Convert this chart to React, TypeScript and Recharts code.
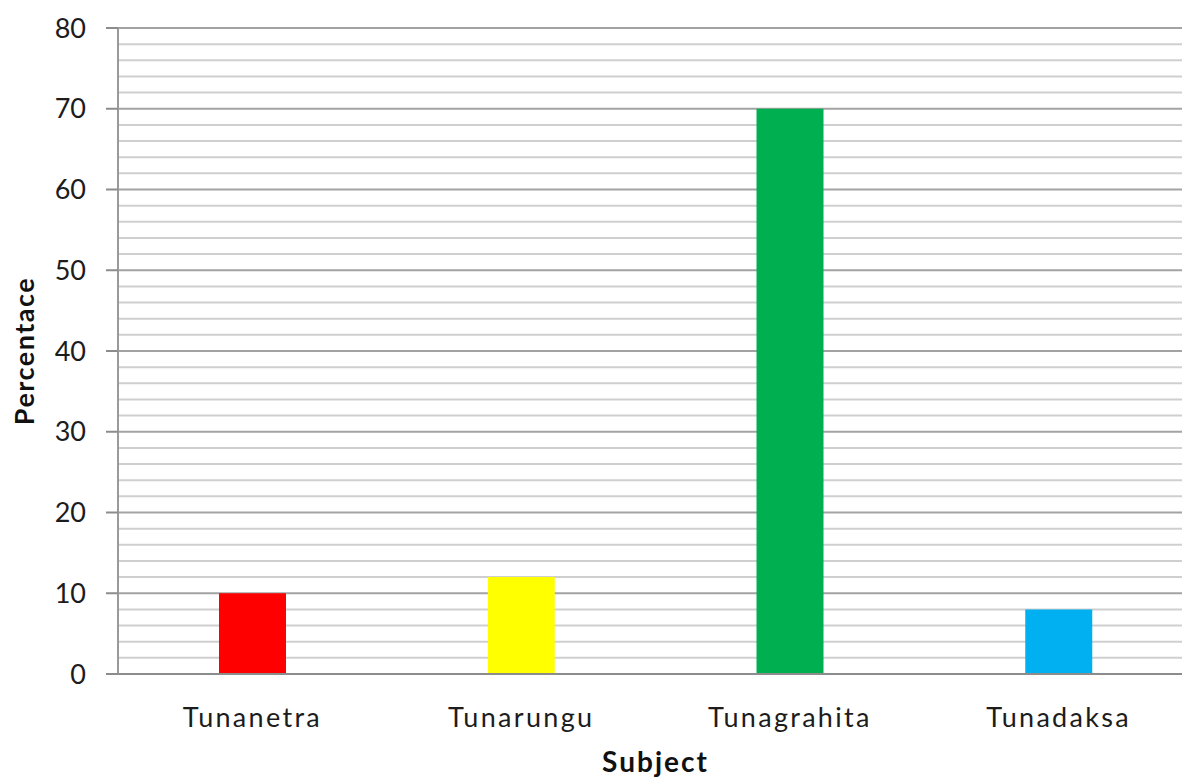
import { BarChart, Bar, XAxis, YAxis, CartesianGrid, Cell, Label } from "recharts";

const categories = ["Tunanetra", "Tunarungu", "Tunagrahita", "Tunadaksa"];
const percentages = [10, 12, 70, 8];
const barColors = ["#ff0000", "#ffff00", "#00b050", "#00b0f0"];
const majorTicks = [0, 10, 20, 30, 40, 50, 60, 70, 80];
const minorTicks = [2, 4, 6, 8, 12, 14, 16, 18, 22, 24, 26, 28, 32, 34, 36, 38, 42, 44, 46, 48, 52, 54, 56, 58, 62, 64, 66, 68, 72, 74, 76, 78];

const data = categories.map((name, i) => ({ name, value: percentages[i] }));

const FONT = "Lato, 'Noto Sans', sans-serif";

export default function App() {
  return (
    <div
      style={{
        position: "absolute",
        left: 0,
        top: 0,
        width: 1182,
        height: 778,
        overflow: "hidden",
        background: "#fff",
      }}
    >
      <BarChart
        width={1194}
        height={778}
        data={data}
        margin={{ top: 28, right: 1, bottom: 0, left: 0 }}
        barCategoryGap={0}
      >
        {/* light minor lines every 2, darker major lines every 10 */}
        <CartesianGrid
          vertical={false}
          horizontalValues={minorTicks}
          stroke="#cfcfcf"
          strokeWidth={2}
        />
        <CartesianGrid
          vertical={false}
          horizontalValues={majorTicks}
          stroke="#a3a3a3"
          strokeWidth={2}
        />
        <XAxis
          dataKey="name"
          height={104}
          tickLine={false}
          axisLine={{ stroke: "#8c8c8c", strokeWidth: 2 }}
          tick={{ fill: "#1c1c1c", fontSize: 27, fontFamily: FONT, letterSpacing: 2.3 }}
          tickMargin={28}
          interval={0}
        >
          <Label
            value="Subject"
            position="insideBottom"
            offset={6}
            style={{ fill: "#111", fontSize: 28, fontWeight: 700, fontFamily: FONT, letterSpacing: 2 }}
          />
        </XAxis>
        <YAxis
          width={118}
          domain={[0, 80]}
          ticks={majorTicks}
          interval={0}
          tickSize={12}
          tickMargin={20}
          tickLine={{ stroke: "#8c8c8c", strokeWidth: 2 }}
          axisLine={{ stroke: "#9a9a9a", strokeWidth: 2 }}
          tick={{ fill: "#1c1c1c", fontSize: 27, fontFamily: FONT }}
        >
          <Label
            value="Percentace"
            angle={-90}
            position="insideLeft"
            offset={24}
            style={{ textAnchor: "middle", fill: "#111", fontSize: 27, fontWeight: 700, fontFamily: FONT, letterSpacing: 1.5 }}
          />
        </YAxis>
        <Bar dataKey="value" barSize={67} isAnimationActive={false}>
          {data.map((d, i) => (
            <Cell key={d.name} fill={barColors[i]} />
          ))}
        </Bar>
      </BarChart>
    </div>
  );
}
